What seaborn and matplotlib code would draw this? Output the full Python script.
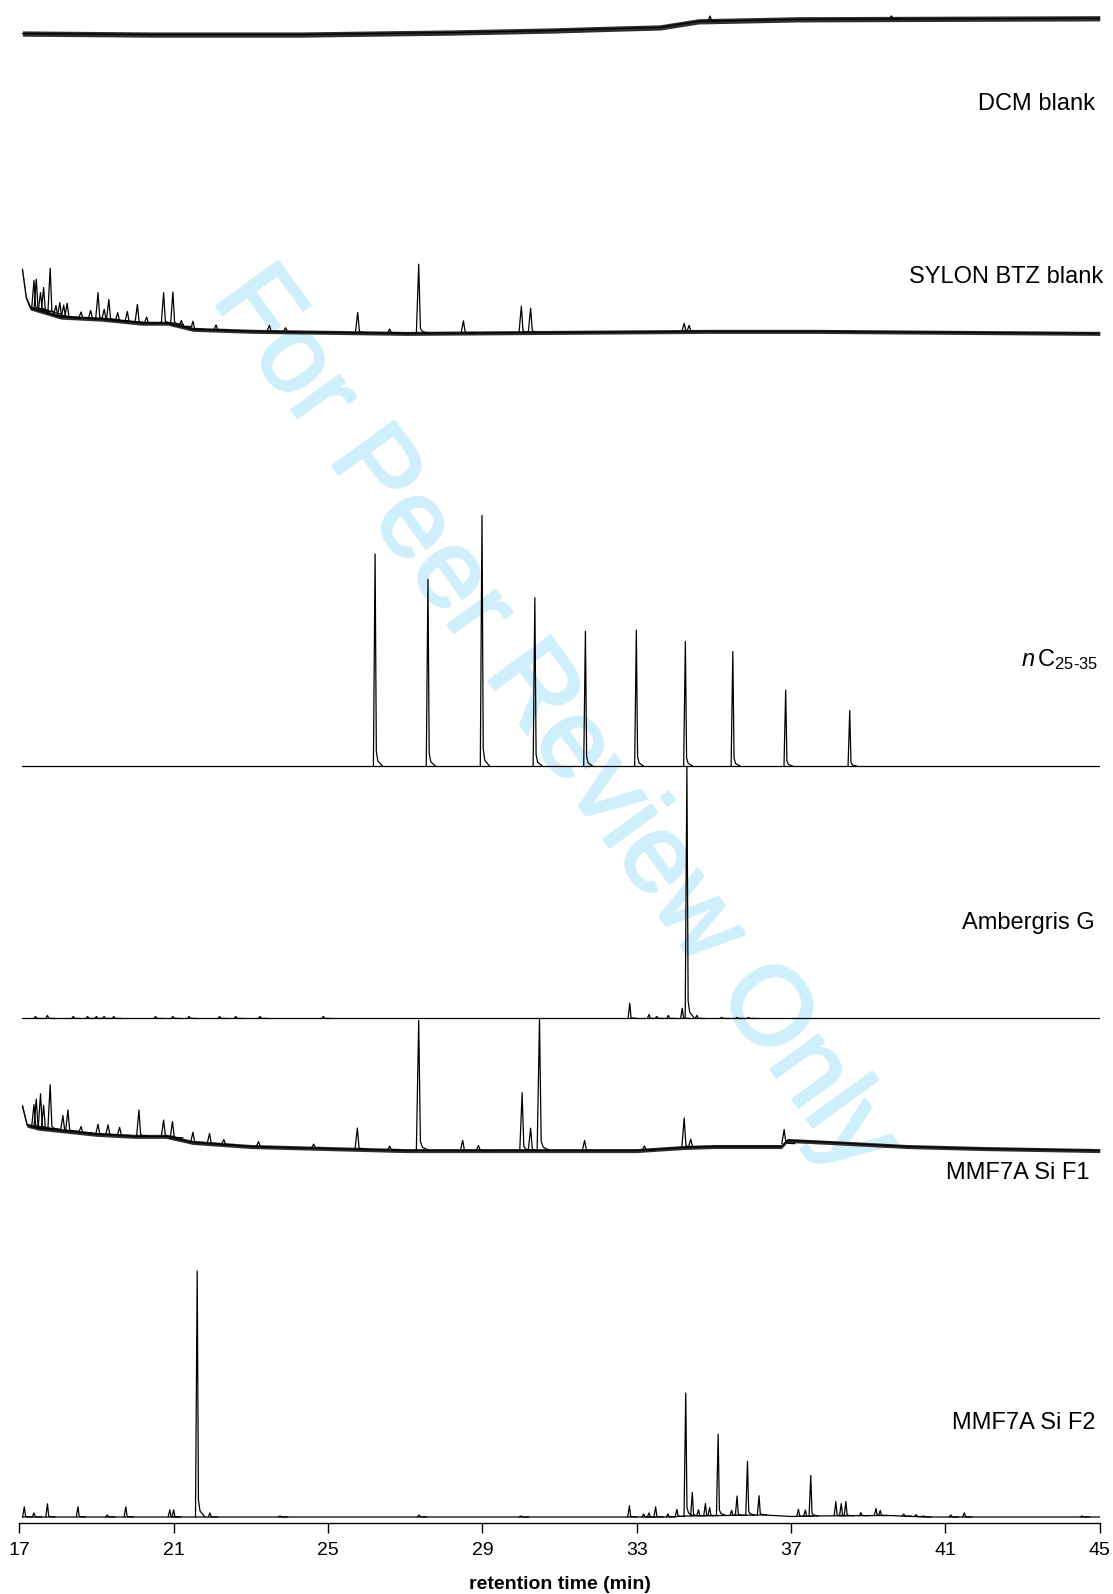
import numpy as np
import pandas as pd
import matplotlib
matplotlib.use("Agg")
import matplotlib.pyplot as plt
import matplotlib.patheffects as pe
import seaborn as sns

# ---- chromatogram data: retention time (min), signal (arbitrary units) ----
# DCM blank
dcm_base_t = [17.08, 20.4, 24.3, 28.2, 30.8, 32.6, 33.6, 34.6, 37.2, 45.0]
dcm_base_y = [0, -1, -1, 1, 3, 5, 6, 12, 14, 15]
dcm_pk_t = [34.9, 39.6]
dcm_pk_h = [5, 3]

# SYLON BTZ blank
sylon_base_t = [17.08, 17.18, 17.29, 18.08, 19.13, 20.19, 20.85, 21.5, 23.09, 27.04, 34.94, 37.57, 45.0]
sylon_base_y = [63, 35, 25, 16, 14, 10, 10, 4, 2, 0, 2, 2, 0]
sylon_pk_t = [17.38, 17.44, 17.55, 17.63, 17.80, 17.95, 18.05, 18.15, 18.24, 18.6, 18.85,
              19.04, 19.2, 19.32, 19.55, 19.8, 20.06, 20.3, 20.74, 20.98, 21.2, 21.5,
              22.1, 23.48, 23.9, 25.77, 26.6, 27.35, 28.51, 30.01, 30.25, 34.23, 34.36]
sylon_pk_h = [28, 30, 18, 24, 45, 10, 14, 12, 14, 6, 8,
              26, 10, 20, 8, 10, 18, 6, 30, 32, 6, 8,
              5, 6, 4, 20, 4, 68, 12, 26, 24, 8, 6]

# n-alkane standard C25-C35
nc_base_t = [17.08, 45.0]
nc_base_y = [0, 0]
nc_pk_t = [26.22, 27.59, 28.99, 30.36, 31.67, 32.99, 34.26, 35.49, 36.86, 38.52]
nc_pk_h = [209, 184, 247, 166, 133, 134, 123, 113, 75, 55]

# Ambergris G
amb_base_t = [17.08, 45.0]
amb_base_y = [0, 0]
amb_pk_t = [17.42, 17.73, 18.40, 18.77, 19.0, 19.2, 19.45, 20.53, 20.98, 21.4, 22.19, 22.61,
            23.24, 24.88, 32.82, 33.32, 33.52, 33.82, 34.18, 34.30, 34.56, 35.2, 35.6, 35.9]
amb_pk_h = [2, 3, 2, 2, 2, 2, 2, 2, 2, 2, 2, 2,
            2, 2, 15, 4, 2, 3, 10, 248, 3, 1, 1, 1]

# MMF7A Si F1
f1_base_t = [17.08, 17.2, 17.5, 18.0, 19.0, 20.0, 20.8, 21.5, 23.0, 25.0, 27.0, 33.0,
             34.2, 35.0, 36.75, 36.9, 38.0, 40.0, 42.0, 45.0]
f1_base_y = [44, 25, 22, 20, 16, 14, 14, 8, 4, 2, 0, 0,
             3, 4, 4, 10, 8, 4, 2, 0]
f1_pk_t = [17.38, 17.44, 17.55, 17.63, 17.80, 18.13, 18.26, 18.6, 19.04, 19.30, 19.6,
           20.10, 20.74, 20.97, 21.50, 21.93, 22.3, 23.2, 24.63, 25.76, 26.6, 27.35,
           28.49, 28.9, 30.03, 30.25, 30.48, 31.65, 33.2, 34.23, 34.4, 36.82]
f1_pk_h = [22, 28, 34, 23, 44, 15, 21, 6, 10, 10, 8,
           26, 16, 16, 10, 10, 5, 5, 4, 21, 4, 128,
           10, 5, 57, 22, 129, 10, 4, 29, 8, 14]

# MMF7A Si F2
f2_base_t = [17.08, 33.8, 34.3, 36.3, 37.0, 37.6, 39.5, 40.5, 45.0]
f2_base_y = [0, 0, 1, 2, 0.5, 1, 1.5, 0, 0]
f2_pk_t = [17.13, 17.38, 17.73, 18.52, 19.28, 19.76, 20.90, 21.00, 21.61, 21.94,
           23.76, 27.36, 30.0, 32.81, 33.18, 33.32, 33.49, 33.81, 34.04, 34.27,
           34.44, 34.60, 34.78, 34.89, 35.11, 35.46, 35.60, 35.87, 36.17, 37.19,
           37.37, 37.51, 38.16, 38.30, 38.42, 38.81, 39.20, 39.31, 39.92, 40.24,
           40.43, 41.14, 41.49, 44.54]
f2_pk_h = [10, 4, 13, 10, 2, 10, 7, 7, 242, 4,
           1, 2, 1, 11, 3, 4, 10, 3, 7, 121,
           23, 6, 12, 8, 80, 5, 19, 53, 19, 7,
           6, 40, 14, 12, 14, 3, 7, 5, 2, 2,
           1, 2, 4, 1]

# ---- layout / style ----
# name, data..., stacking offset, baseline noise half-band, peak half-width (min), label y
traces = [
    ("DCM blank", dcm_base_t, dcm_base_y, dcm_pk_t, dcm_pk_h, 1465, 2.6, 0.05, 1390),
    ("SYLON BTZ blank", sylon_base_t, sylon_base_y, sylon_pk_t, sylon_pk_h, 1170, 2.0, 0.055, 1220),
    ("nC", nc_base_t, nc_base_y, nc_pk_t, nc_pk_h, 744, 0, 0.04, 843),
    ("Ambergris G", amb_base_t, amb_base_y, amb_pk_t, amb_pk_h, 496, 0, 0.04, 584),
    ("MMF7A Si F1", f1_base_t, f1_base_y, f1_pk_t, f1_pk_h, 366, 2.0, 0.055, 338),
    ("MMF7A Si F2", f2_base_t, f2_base_y, f2_pk_t, f2_pk_h, 5.5, 0, 0.04, 92),
]
label_right = {"DCM blank": 44.87, "SYLON BTZ blank": 45.08, "nC": 44.95,
               "Ambergris G": 44.87, "MMF7A Si F1": 44.74, "MMF7A Si F2": 44.90}
peak_dt = np.array([-1.1, 0.0, 0.8, 1.8, 5.0])
peak_frac = np.array([0.0, 1.0, 0.07, 0.025, 0.0])

sns.set_style("white")
plt.rcParams["font.family"] = ["Liberation Sans", "DejaVu Sans"]
plt.rcParams["mathtext.fontset"] = "custom"
plt.rcParams["mathtext.rm"] = "Liberation Sans"
plt.rcParams["mathtext.it"] = "Liberation Sans:italic"
plt.rcParams["text.color"] = "black"
plt.rcParams["axes.labelcolor"] = "black"
plt.rcParams["xtick.color"] = "black"

fig = plt.figure(figsize=(11.13, 15.94), dpi=100)
ax = fig.add_axes([0.01734, 0.0448, 0.9708, 0.9552])
ax.patch.set_visible(False)

frames = []
for name, bt, by, pt, ph, off, noise, w, ly in traces:
    by_abs = np.add(by, off)
    frames.append(pd.DataFrame({"t": bt, "y": by_abs, "seg": name + "-base"}))
    if noise > 0:
        ax.fill_between(bt, by_abs - noise, by_abs + noise, color="0.18", lw=0, zorder=2)
    for i, (t, h) in enumerate(zip(pt, ph)):
        b = off + np.interp(t, bt, by)
        frames.append(pd.DataFrame({"t": t + peak_dt * w, "y": b + peak_frac * h,
                                    "seg": f"{name}-{i}"}))
    label = name
    if name == "nC":
        label = r"$\mathit{n}\,\mathrm{C}_{\mathrm{25}\text{-}\mathrm{35}}$"
    ax.text(label_right[name], ly, label, ha="right", va="baseline",
            fontsize=17, color="black", clip_on=False, zorder=3)

data = pd.concat(frames, ignore_index=True)
sns.lineplot(data=data, x="t", y="y", units="seg", estimator=None, sort=False,
             color="black", lw=0.9, ax=ax, zorder=2)

# watermark
wm_color = "#d0effc"
ax.text(0.4978, 0.5473, "For Peer Review Only", transform=fig.transFigure,
        rotation=-54, rotation_mode="anchor", ha="center", va="center",
        fontsize=80, color=wm_color, zorder=0,
        path_effects=[pe.withStroke(linewidth=2, foreground=wm_color)])

ax.set_xlim(17, 45)
ax.set_ylim(0, 1498)
ax.set_xticks(range(17, 46, 4))
ax.set_yticks([])
ax.set_ylabel("")
sns.despine(ax=ax, left=True)
ax.spines["bottom"].set_color("black")
ax.spines["bottom"].set_linewidth(1.0)
ax.tick_params(axis="x", bottom=True, direction="out", length=7, width=1,
               color="black", labelcolor="black", labelsize=14, pad=7)
ax.set_xlabel("retention time (min)", fontsize=14, fontweight="bold")
ax.xaxis.set_label_coords(0.5, -0.0405)
ax.xaxis.label.set_va("center")

fig.savefig("out.png", dpi=100)
